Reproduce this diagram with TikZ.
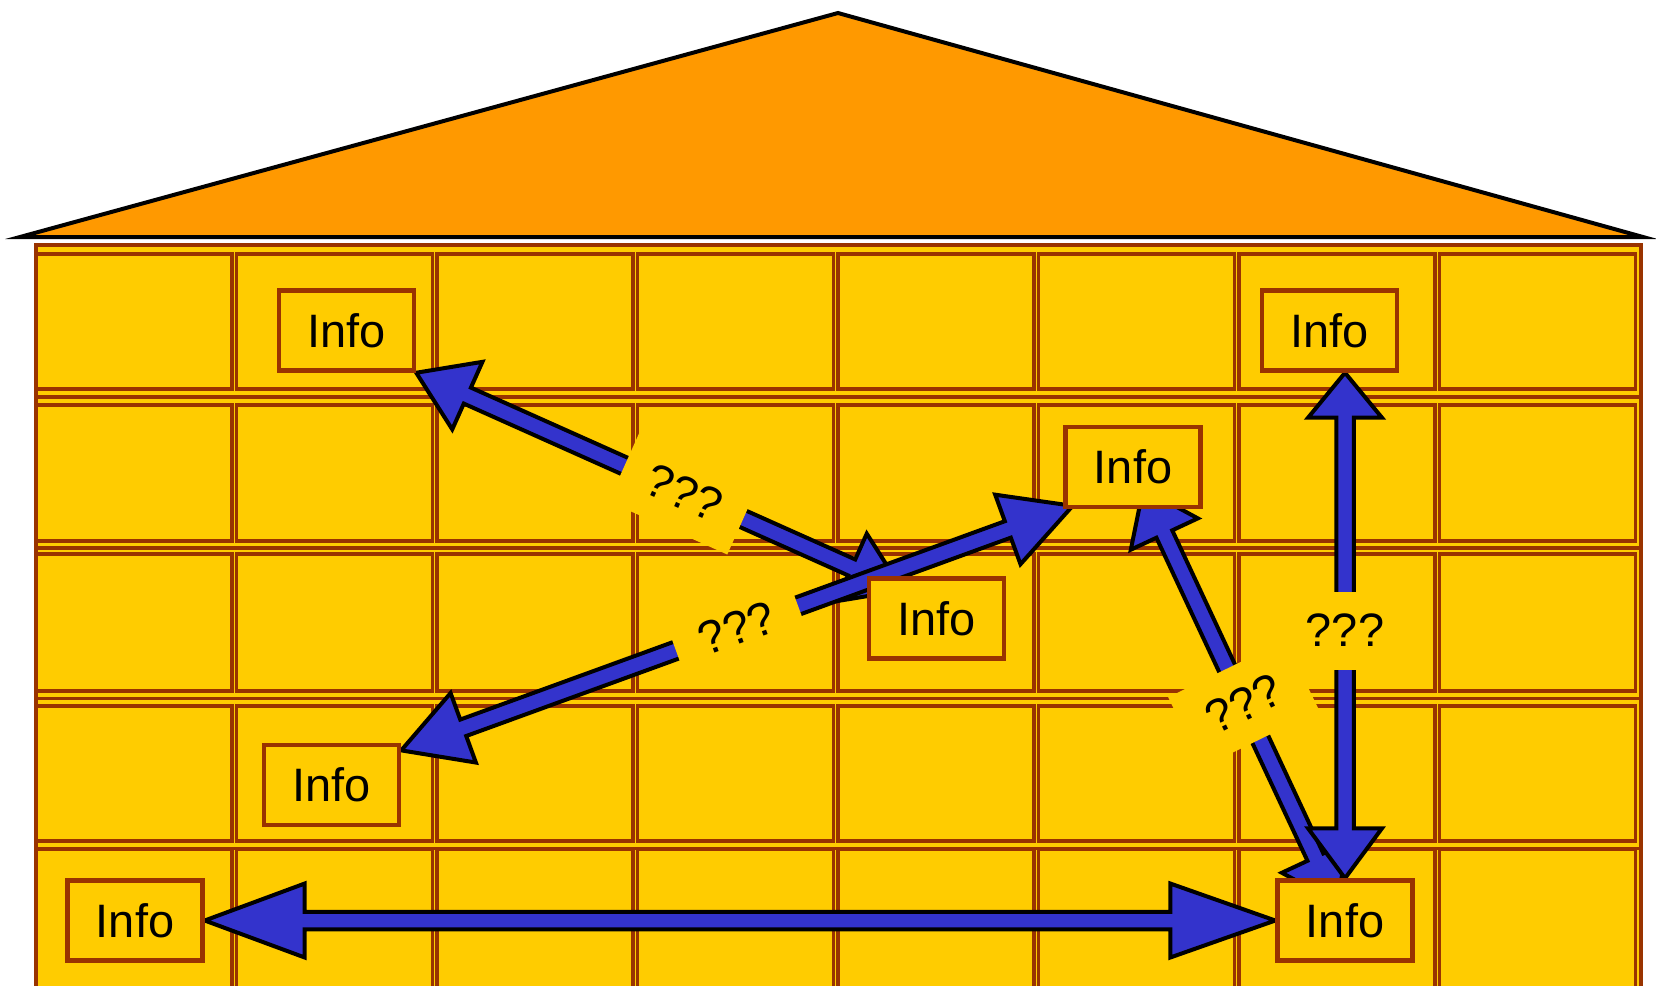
\documentclass[tikz,border=0pt]{standalone}
\usepackage{fontspec}
\setmainfont{Liberation Sans}
\usetikzlibrary{calc}
\definecolor{roofor}{HTML}{FF9900}
\definecolor{wallyel}{HTML}{FFCC00}
\definecolor{brickbr}{HTML}{993300}
\definecolor{flowblue}{HTML}{3333CC}
\pgfdeclarelayer{wall}
\pgfdeclarelayer{flow}
\pgfsetlayers{wall,flow,main}
\tikzset{
  info/.style={draw=brickbr,line width=.09cm,fill=wallyel,minimum width=2.7cm,minimum height=1.6cm,inner sep=0pt,font=\fontsize{26.7}{30}\selectfont},
  qmark/.style={fill=wallyel,minimum width=2.6cm,minimum height=1.56cm,inner sep=0pt,font=\fontsize{26.7}{30}\selectfont},
  brick/.style={draw=brickbr,line width=.075cm},
  flowarrow/.style={fill=flowblue,draw=black,line width=.08cm,line join=miter},
}
\newcommand\twoway[4]{%
  \coordinate (hA) at ($(#1)!#3!(#2)$);
  \coordinate (hB) at ($(#2)!#4!(#1)$);
  \filldraw[flowarrow] (#1) -- ($(hA)!0.74cm!90:(#2)$) -- ($(hA)!0.175cm!90:(#2)$)
    -- ($(hB)!0.175cm!-90:(#1)$) -- ($(hB)!0.74cm!-90:(#1)$) -- (#2)
    -- ($(hB)!0.74cm!90:(#1)$) -- ($(hB)!0.175cm!90:(#1)$)
    -- ($(hA)!0.175cm!-90:(#2)$) -- ($(hA)!0.74cm!-90:(#2)$) -- cycle;
}
\begin{document}
\begin{tikzpicture}[x=.02cm,y=-.02cm]
\useasboundingbox (0,0) rectangle (1656,985);
\node[info] (i1) at (346.5,330.5) {Info};
\node[info] (i2) at (1329.5,330.5) {Info};
\node[info] (i3) at (1133,467) {Info};
\node[info] (i4) at (936.5,618.5) {Info};
\node[info] (i5) at (331.5,785) {Info};
\node[info] (i6) at (135,920.5) {Info};
\node[info] (i7) at (1345,920.5) {Info};
\begin{pgfonlayer}{wall}
\filldraw[fill=roofor,draw=black,line width=.08cm] (20,237) -- (838,13) -- (1643,237) -- cycle;
\fill[wallyel] (36,245) rectangle (1641,995);
\foreach \ya/\yb in {254/389,405/541,554/691,706/841,849/995}
  \foreach \i in {0,...,7}
    \draw[brick] ({36+200.5*\i},\ya) rectangle ({232+200.5*\i},\yb);
\foreach \y in {397,548,698.5,848.5}
  \draw[brick] (36,\y) -- (1641,\y);
\draw[brick,line width=.085cm] (36,245) rectangle (1641,995);
\end{pgfonlayer}
\begin{pgfonlayer}{flow}
\coordinate (a1) at (i1.south east);
\coordinate (a2) at ($(i4.north west)+(36,14)$);
\coordinate (b1) at ($(i5.north east)!0.09!(i5.south east)$);
\coordinate (b2) at ($(i3.south west)!-0.2cm!(b1)$);
\coordinate (c1) at ($(i3.center)!0.48cm!(i7.center)$);
\coordinate (c2) at ($(i7.center)!0.4cm!(i3.center)$);
\coordinate (d1) at (i7.north);
\coordinate (d2) at (i7 |- i2.south);
\twoway{a1}{a2}{1.12cm}{1.12cm}
\twoway{b1}{b2}{1.32cm}{1.38cm}
\twoway{c1}{c2}{1cm}{1cm}
\twoway{d1}{d2}{1cm}{0.9cm}
\twoway{i6.east}{i7.west}{2cm}{2.1cm}
\path (a1) -- (a2) node[qmark,sloped,pos=.55] {???};
\path (b1) -- (b2) node[qmark,sloped,midway] {???};
\path (c1) -- (c2) node[qmark,rotate=26,pos=.52] {???};
\path (d1) -- (d2) node[qmark,pos=.49] {???};
\end{pgfonlayer}
\end{tikzpicture}
\end{document}
